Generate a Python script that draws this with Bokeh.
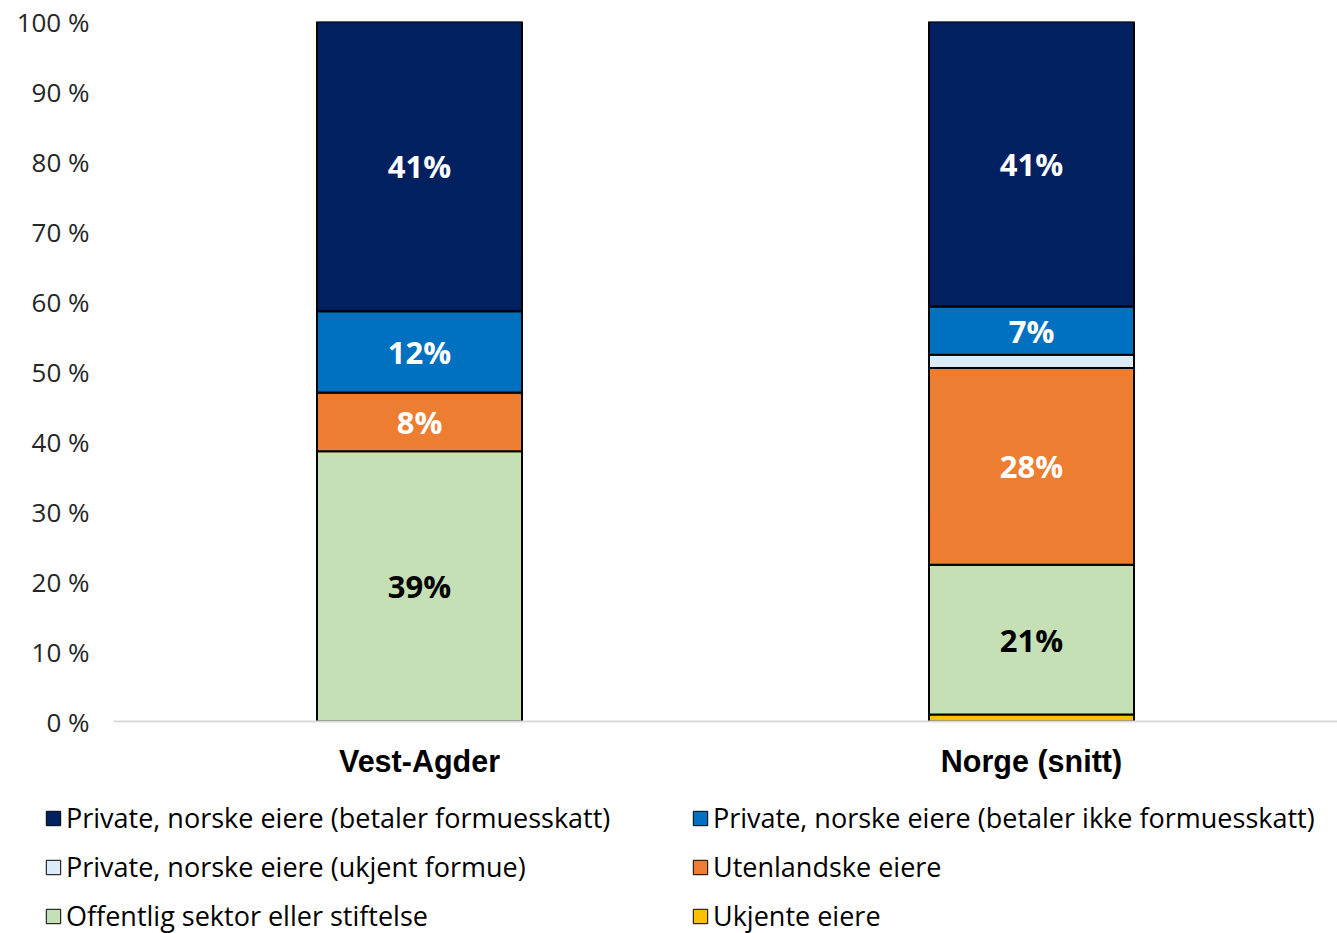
from bokeh.plotting import figure
from bokeh.layouts import column
from bokeh.models import (FactorRange, FixedTicker, Legend, LegendItem,
                          ColumnDataSource)
from bokeh.core.properties import value
from bokeh.embed import file_html
from bokeh.resources import INLINE

regions = ["Vest-Agder", "Norge (snitt)"]
series = ["Ukjente eiere", "Offentlig sektor eller stiftelse", "Utenlandske eiere",
          "Private, norske eiere (ukjent formue)",
          "Private, norske eiere (betaler ikke formuesskatt)",
          "Private, norske eiere (betaler formuesskatt)"]
ukjente = [0.0, 1.0]
offentlig = [38.6, 21.4]
utenlandske = [8.4, 28.1]
ukjent_formue = [0.0, 1.9]
ikke_formuesskatt = [11.6, 6.9]
betaler_formuesskatt = [41.4, 40.7]
colors = ["#FFC000", "#C5E0B4", "#ED7D31", "#DDEBF7", "#0070C0", "#002060"]
label_colors = ["#000000", "#000000", "#FFFFFF", "#000000", "#FFFFFF", "#FFFFFF"]
y_ticks = [0, 10, 20, 30, 40, 50, 60, 70, 80, 90, 100]
legend_order = [5, 4, 3, 2, 1, 0]

values = [ukjente, offentlig, utenlandske, ukjent_formue, ikke_formuesskatt, betaler_formuesskatt]
keys = ["s%d" % i for i in range(len(series))]
data = {"region": regions}
for k, v in zip(keys, values):
    data[k] = v
source = ColumnDataSource(data)

W = 1337
H1 = 790
H2 = 143

p = figure(x_range=FactorRange(*regions, range_padding=0), y_range=(0, 100),
           width=W, height=H1, output_backend="svg", toolbar_location=None,
           min_border_left=113, min_border_top=21, min_border_right=0,
           min_border_bottom=H1 - 721)
p.frame_align = False
p.outline_line_color = None
p.xgrid.grid_line_color = None
p.ygrid.grid_line_color = None

renderers = p.vbar_stack(keys, x="region", width=0.335, source=source,
                         fill_color=colors, line_color="black", line_width=2)

# data labels
lx, ly, lt, lc = [], [], [], []
for j, reg in enumerate(regions):
    base = 0.0
    for i, v in enumerate(values):
        val = v[j]
        if val >= 5:
            lx.append(reg)
            ly.append(base + val / 2)
            lt.append("%d%%" % round(val))
            lc.append(label_colors[i])
        base += val
p.text(x=lx, y=ly, text=lt, text_color=lc, text_align="center", text_baseline="middle",
       text_font=value("Open Sans"), text_font_style="bold", text_font_size="31px")

# axes
p.yaxis.ticker = FixedTicker(ticks=y_ticks)
p.yaxis.major_label_overrides = {t: "%d %%" % t for t in y_ticks}
p.yaxis.axis_line_color = None
p.yaxis.major_tick_line_color = None
p.yaxis.minor_tick_line_color = None
p.yaxis.major_tick_out = 0
p.yaxis.major_label_standoff = 24
p.yaxis.major_label_text_font = "Open Sans"
p.yaxis.major_label_text_font_size = "26px"
p.yaxis.major_label_text_color = "#262626"

p.xaxis.axis_line_color = "#D9D9D9"
p.xaxis.axis_line_width = 2
p.xaxis.major_tick_line_color = None
p.xaxis.minor_tick_line_color = None
p.xaxis.major_tick_out = 0
p.xaxis.major_label_standoff = 22
p.xaxis.major_label_text_font = "Liberation Sans"
p.xaxis.major_label_text_font_style = "bold"
p.xaxis.major_label_text_font_size = "30.5px"
p.xaxis.major_label_text_color = "#000000"

# legend figure (hidden copies of the bars supply the legend swatches)
p2 = figure(width=W, height=H2, output_backend="svg", toolbar_location=None,
            min_border=0, x_range=FactorRange(*regions), y_range=(0, 100))
p2.frame_align = False
p2.axis.visible = False
p2.grid.visible = False
p2.outline_line_color = None
leg_renderers = p2.vbar_stack(keys, x="region", width=0.335, source=source,
                              fill_color=colors, line_color="black", line_width=1)
for r in leg_renderers:
    r.visible = False
items = [LegendItem(label=series[i], renderers=[leg_renderers[i]]) for i in legend_order]
legend = Legend(items=items, orientation="horizontal", ncols=2,
                location=(44, -1), glyph_width=18, glyph_height=18,
                label_standoff=4, label_height=30, label_width=613, spacing=12,
                padding=0, margin=0, border_line_color=None,
                background_fill_alpha=0, click_policy="none",
                label_text_font="Open Sans", label_text_font_size="27px",
                label_text_color="#000000")
p2.add_layout(legend, "center")

layout = column(p, p2, spacing=0)
open("out.html", "w").write(file_html(layout, INLINE))
